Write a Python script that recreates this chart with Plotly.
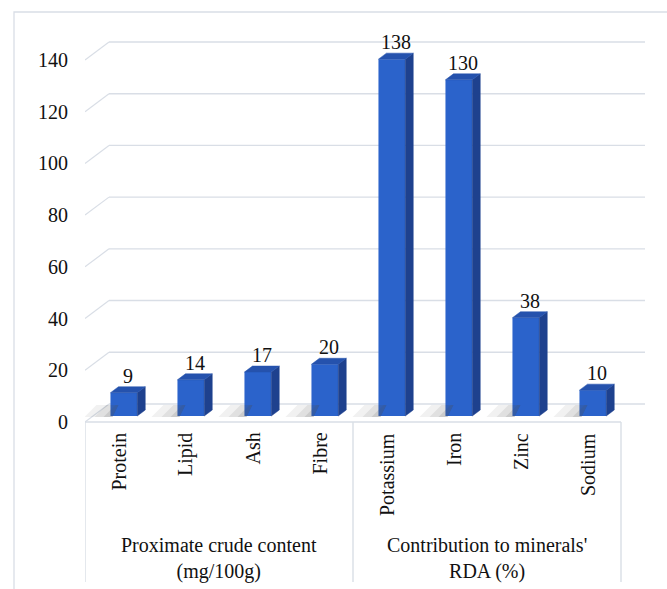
import plotly.graph_objects as go

# ---------------- data ----------------
categories = ["Protein", "Lipid", "Ash", "Fibre", "Potassium", "Iron", "Zinc", "Sodium"]
values = [9, 14, 17, 20, 138, 130, 38, 10]
group_labels = ["Proximate crude content<br>(mg/100g)", "Contribution to minerals&#39;<br>RDA (%)"]
group_sizes = [4, 4]
y_ticks = [0, 20, 40, 60, 80, 100, 120, 140]

# ---------------- geometry (pseudo-3D projection) ----------------
W, H = 667, 589
M_L, M_R, M_T, M_B = 85, 12, 30, 4
PX_PER_CAT = 67.0
PX_PER_UNIT = 2.586
Y0_PIX = 422

DEPTH_X = 24 / PX_PER_CAT
DEPTH_Y = 18 / PX_PER_UNIT
BAR_W = 0.4
BAR_SHIFT = 0.08
BAR_DX = DEPTH_X / 3
BAR_DY = DEPTH_Y / 3
BASE = DEPTH_Y / 3

plot_w = W - M_L - M_R
plot_h = H - M_T - M_B
x_lo = -0.5
x_hi = x_lo + plot_w / PX_PER_CAT
y_hi = (Y0_PIX - M_T) / PX_PER_UNIT
y_lo = y_hi - plot_h / PX_PER_UNIT

n = len(categories)
x_left_edge = -0.5
x_right_edge = n - 0.5

FRONT = "#2B63CB"
SIDE = "#1E418E"
TOP = "#2552AD"
GRID = "#D9DEE6"
FONT = "Liberation Serif"
TXT = dict(family=FONT, size=20, color="#111111")

fig = go.Figure()

xc = [i + BAR_SHIFT for i in range(n)]

# soft shadows on the floor: layered polygons, darker next to each bar
for w_px, alpha in [(26, 0.08), (16, 0.10), (7, 0.14)]:
    shx, shy = [], []
    for i, v in enumerate(values):
        xl = xc[i] - BAR_W / 2
        px = [xl + 2 / PX_PER_CAT, xl - w_px / PX_PER_CAT, xl - (w_px - 12) / PX_PER_CAT, xl + 8 / PX_PER_CAT]
        py = [BASE - 1 / PX_PER_UNIT, BASE - 1 / PX_PER_UNIT, BASE + 11 / PX_PER_UNIT, BASE + 11 / PX_PER_UNIT]
        shx += px + [px[0], None]
        shy += py + [py[0], None]
    fig.add_trace(go.Scatter(x=shx, y=shy, mode="lines", fill="toself",
                             fillcolor="rgba(80,80,80,%.2f)" % alpha, line=dict(width=0),
                             hoverinfo="skip", showlegend=False))

# front faces
fig.add_trace(go.Bar(x=xc, y=values, base=[BASE] * n, width=BAR_W,
                     marker=dict(color=FRONT, line=dict(width=0)),
                     showlegend=False, hoverinfo="skip"))

# side faces and top faces
sx, sy, tx, ty = [], [], [], []
for i, v in enumerate(values):
    xl = xc[i] - BAR_W / 2
    xr = xc[i] + BAR_W / 2
    top = BASE + v
    sx += [xr, xr + BAR_DX, xr + BAR_DX, xr, xr, None]
    sy += [BASE, BASE + BAR_DY, top + BAR_DY, top, BASE, None]
    tx += [xl, xl + BAR_DX, xr + BAR_DX, xr, xl, None]
    ty += [top, top + BAR_DY, top + BAR_DY, top, top, None]
fig.add_trace(go.Scatter(x=sx, y=sy, mode="lines", fill="toself", fillcolor=SIDE,
                         line=dict(width=0.5, color=SIDE), hoverinfo="skip", showlegend=False))
fig.add_trace(go.Scatter(x=tx, y=ty, mode="lines", fill="toself", fillcolor=TOP,
                         line=dict(width=0.5, color=TOP), hoverinfo="skip", showlegend=False))

# ---------------- shapes ----------------
shapes = []
shapes.append(dict(type="rect", xref="paper", yref="paper",
                   x0=(14 - M_L) / plot_w, x1=(W + 5 - M_L) / plot_w,
                   y0=(H - M_B - (H + 5)) / plot_h, y1=(H - M_B - 12) / plot_h,
                   line=dict(color=GRID, width=1.3), layer="below"))
for t in y_ticks:
    shapes.append(dict(type="line", xref="x", yref="y",
                       x0=x_left_edge + DEPTH_X, x1=x_right_edge + DEPTH_X,
                       y0=t + DEPTH_Y, y1=t + DEPTH_Y,
                       line=dict(color=GRID, width=1.4), layer="below"))
    shapes.append(dict(type="line", xref="x", yref="y",
                       x0=x_left_edge, x1=x_left_edge + DEPTH_X,
                       y0=t, y1=t + DEPTH_Y,
                       line=dict(color=GRID, width=1.2), layer="below"))
shapes.append(dict(type="line", xref="x", yref="y",
                   x0=x_left_edge, x1=x_right_edge, y0=0, y1=0,
                   line=dict(color=GRID, width=1.4), layer="below"))
bounds = [x_left_edge]
acc = x_left_edge
for g in group_sizes:
    acc += g
    bounds.append(acc)
sep_bottom = -(582 - Y0_PIX) / PX_PER_UNIT
for b in bounds:
    shapes.append(dict(type="line", xref="x", yref="y",
                       x0=b, x1=b, y0=0, y1=sep_bottom,
                       line=dict(color=GRID, width=1.4), layer="below"))

# ---------------- texts ----------------
annotations = []
for i, v in enumerate(values):
    annotations.append(dict(x=xc[i] + BAR_DX / 2, y=BASE + v + BAR_DY, xref="x", yref="y",
                            text=str(v), showarrow=False, xanchor="center", yanchor="bottom",
                            yshift=-2, font=TXT))
for i, c in enumerate(categories):
    annotations.append(dict(x=i, y=-(431 - Y0_PIX) / PX_PER_UNIT, xref="x", yref="y",
                            text=c, showarrow=False, textangle=-90,
                            xanchor="center", yanchor="top", font=TXT))
for gi, g in enumerate(group_sizes):
    center = (bounds[gi] + bounds[gi + 1]) / 2
    annotations.append(dict(x=center, y=-(558 - Y0_PIX) / PX_PER_UNIT, xref="x", yref="y",
                            text=group_labels[gi], showarrow=False,
                            xanchor="center", yanchor="middle", font=TXT))

fig.update_layout(
    width=W, height=H,
    margin=dict(l=M_L, r=M_R, t=M_T, b=M_B, autoexpand=False),
    paper_bgcolor="white", plot_bgcolor="white",
    font=dict(family=FONT, color="#111111"),
    shapes=shapes, annotations=annotations,
    xaxis=dict(range=[x_lo, x_hi], showticklabels=False, ticks="",
               showline=False, showgrid=False, zeroline=False),
    yaxis=dict(range=[y_lo, y_hi], tickmode="array", tickvals=y_ticks,
               ticks="", showline=False, showgrid=False, zeroline=False,
               ticklabelstandoff=16, tickfont=TXT),
)

fig.write_html("out.html")
